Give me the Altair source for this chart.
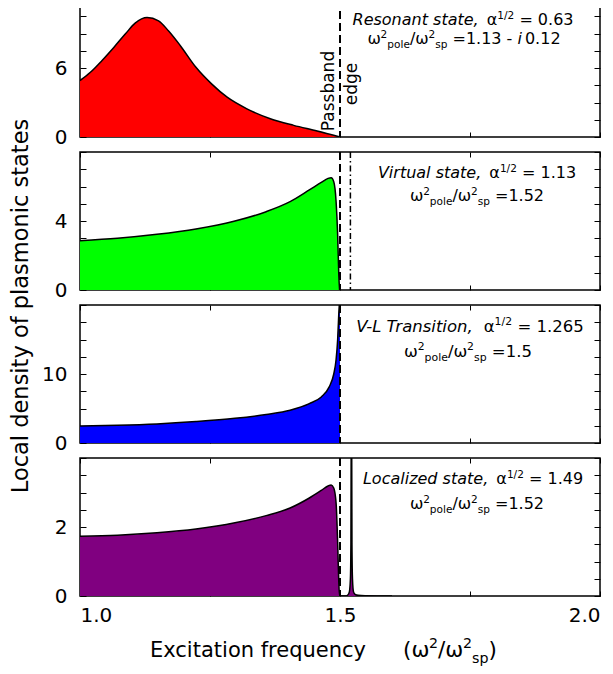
import altair as alt
import pandas as pd

FONT = "DejaVu Sans"

# ---------------- data ----------------
res_x = [1.000, 1.020, 1.042, 1.065, 1.087, 1.106, 1.129, 1.151, 1.170, 1.193, 1.223,
         1.253, 1.283, 1.321, 1.366, 1.411, 1.456, 1.500]
res_y = [4.91, 5.63, 6.64, 7.79, 8.95, 9.90, 10.39, 10.10, 9.24, 7.94, 6.06,
         4.62, 3.46, 2.45, 1.59, 1.01, 0.52, 0.0]

virt_x = [1.000, 1.072, 1.148, 1.223, 1.298, 1.358, 1.404, 1.441, 1.464, 1.477, 1.483,
          1.488, 1.4925, 1.4955, 1.4977, 1.4992]
virt_y = [2.86, 3.00, 3.23, 3.54, 4.00, 4.54, 5.12, 5.80, 6.24, 6.47, 6.51,
          6.28, 5.12, 3.19, 0.87, 0.0]

trans_x = [1.000, 1.072, 1.148, 1.223, 1.298, 1.358, 1.404, 1.441, 1.464, 1.479, 1.488,
           1.4925, 1.4955, 1.4977, 1.4992, 1.4999, 1.5]
trans_y = [2.48, 2.57, 2.76, 3.10, 3.57, 4.14, 4.76, 5.71, 6.67, 8.10, 10.0,
           12.1, 15.0, 18.8, 21.2, 30.0, 0.0]

loc_x = [1.000, 1.072, 1.148, 1.223, 1.298, 1.358, 1.404, 1.441, 1.464, 1.477, 1.483,
         1.488, 1.4925, 1.4955, 1.4977, 1.4992, 1.510, 1.515, 1.518, 1.520, 1.521,
         1.5215, 1.522, 1.5225, 1.523, 1.524, 1.526, 1.529, 1.535, 1.550, 1.600]
loc_y = [1.73, 1.76, 1.83, 1.94, 2.12, 2.33, 2.55, 2.84, 3.06, 3.19, 3.22,
         3.13, 2.69, 1.54, 0.38, 0.0, 0.0, 0.03, 0.12, 0.5, 1.5,
         4.5, 9.0, 4.5, 1.5, 0.5, 0.12, 0.05, 0.02, 0.01, 0.0]

fill_colors = ["#ff0000", "#00ff00", "#0000ff", "#800080"]
y_max = [12, 8, 20, 4]
y_ticks = [[0, 1.5, 3, 4.5, 6, 7.5, 9, 10.5, 12],
           [0, 1, 2, 3, 4, 5, 6, 7, 8],
           [0, 2.5, 5, 7.5, 10, 12.5, 15, 17.5, 20],
           [0, 0.5, 1, 1.5, 2, 2.5, 3, 3.5, 4]]
y_labeled = [[0, 6], [0, 4], [0, 10], [0, 2]]
x_ticks = [1.0, 1.25, 1.5, 1.75, 2.0]
x_labeled = [1.0, 1.5, 2.0]
passband_edge = [1.5]
virtual_pole = [1.52]

state_names = ["Resonant state,", "Virtual state,", "V-L Transition,", "Localized state,"]
alpha_vals = ["0.63", "1.13", "1.265", "1.49"]
pole_vals = ["1.13 - ", "1.52", "1.5", "1.52"]

# ---------------- layout helpers ----------------
W, H = 520, 138

DV = {' ': 318, '(': 390, ')': 390, ',': 318, '-': 361, '.': 318, '/': 337, '=': 838,
      'L': 557, 'R': 695, 'V': 684, 'T': 611, 'E': 632, 'P': 603,
      'a': 613, 'b': 635, 'c': 550, 'd': 635, 'e': 615, 'f': 352, 'g': 635, 'h': 634,
      'i': 278, 'j': 278, 'k': 579, 'l': 278, 'm': 974, 'n': 634, 'o': 612, 'p': 635,
      'q': 635, 'r': 411, 's': 521, 't': 392, 'u': 634, 'v': 592, 'w': 818, 'x': 592,
      'y': 592, 'z': 525, 'α': 659, 'ω': 823}
for d in "0123456789":
    DV[d] = 636


def text_w(s, size):
    return sum(DV.get(c, 600) for c in s) * size / 1000.0


def txt(s, x, y, size, italic=False, dy=0, align="left", angle=0, baseline="alphabetic"):
    props = dict(text=s, font=FONT, fontSize=size, align=align, baseline=baseline,
                 color="black", dy=dy)
    if italic:
        props["fontStyle"] = "italic"
    if angle:
        props["angle"] = angle
    return alt.Chart(pd.DataFrame({"k": [0]})).mark_text(**props).encode(
        x=alt.value(x), y=alt.value(y))


def rich(segments, x, y, size, anchor="center"):
    small = size * 0.66
    sizes = [size if k == "n" else small for _, k, _ in segments]
    widths = [text_w(s, fs) + (3 if ital else 0)
              for (s, _, ital), fs in zip(segments, sizes)]
    cur = x - sum(widths) / 2 if anchor == "center" else x
    out = []
    for (s, kind, ital), fs, w in zip(segments, sizes, widths):
        lead = len(s) - len(s.lstrip(" "))
        dy = {"n": 0, "sup": -0.4 * size, "sub": 0.27 * size}[kind]
        out.append(txt(s.strip(), cur + text_w(" " * lead, fs), y, fs, ital, dy))
        cur += w
    return out


def annotation(i, cx1, b1, cx2, b2, size=16):
    line1 = [(state_names[i] + " ", "n", True), ("α", "n", False), ("1/2", "sup", False),
             (" = " + alpha_vals[i], "n", False)]
    line2 = [("ω", "n", False), ("2", "sup", False), ("pole", "sub", False),
             ("/ω", "n", False), ("2", "sup", False), ("sp", "sub", False),
             (" =" + pole_vals[i], "n", False)]
    if i == 0:
        line2 += [("i", "n", True), ("0.12", "n", False)]
    return rich(line1, cx1, b1, size) + rich(line2, cx2, b2, size)


def make_panel(i, xs_data, ys_data, line_cut, extra, texts, last):
    xs = alt.Scale(domain=[1, 2], nice=False, zero=False)
    ys = alt.Scale(domain=[0, y_max[i]], nice=False, zero=True)
    cond = " || ".join(f"datum.value == {v}" for v in y_labeled[i])
    ax_left = alt.Axis(values=y_ticks[i], labelExpr=f"({cond}) ? '' + datum.value : ''",
                       tickSize=6, offset=-6, domain=False, grid=False,
                       title=None, labelPadding=13)
    if last:
        xcond = " || ".join(f"datum.value == {v}" for v in x_labeled)
        ax_bottom = alt.Axis(values=x_ticks,
                             labelExpr=f"({xcond}) ? format(datum.value, '.1f') : ''",
                             tickSize=5, offset=-5, domain=False, grid=False,
                             title=None, labelPadding=9)
    else:
        ax_bottom = alt.Axis(values=x_ticks, labels=False, tickSize=5, offset=-5,
                             domain=False, grid=False, title=None)
    ax_top = alt.Axis(orient="top", values=x_ticks, labels=False, tickSize=5, offset=-5,
                      domain=False, grid=False, title=None)
    ax_right = alt.Axis(orient="right", values=y_ticks[i], labels=False, tickSize=6,
                        offset=-6, domain=False, grid=False, title=None)

    df = pd.DataFrame({"x": xs_data, "y": ys_data})
    dfl = df.iloc[:line_cut] if line_cut else df
    area = alt.Chart(df).mark_area(color=fill_colors[i], interpolate="monotone",
                                   clip=True).encode(
        x=alt.X("x:Q", scale=xs, axis=ax_bottom),
        y=alt.Y("y:Q", scale=ys, axis=ax_left))
    line = alt.Chart(dfl).mark_line(color="black", strokeWidth=1.5, interpolate="monotone",
                                    clip=True).encode(
        x=alt.X("x:Q", scale=xs, axis=ax_top),
        y=alt.Y("y:Q", scale=ys, axis=ax_right))
    edge = alt.Chart(pd.DataFrame({"x": passband_edge})).mark_rule(
        color="black", strokeWidth=2, strokeDash=[8, 4]).encode(
        x=alt.X("x:Q", scale=xs, axis=None))
    layers = [area, line, edge]
    for e in extra:
        layers.append(e(xs))
    layers += texts
    return alt.layer(*layers).resolve_axis(x="independent", y="independent").properties(
        width=W, height=H)


def pole_rule(xs):
    return alt.Chart(pd.DataFrame({"x": virtual_pole})).mark_rule(
        color="black", strokeWidth=1.5, strokeDash=[6, 3, 1.5, 3]).encode(
        x=alt.X("x:Q", scale=xs, axis=None))


# texts
p1_texts = annotation(0, 383, 26, 384, 45) + [
    txt("Passband", 249, 92, 17, align="center", angle=270, baseline="middle"),
    txt("edge", 272, 85, 17, align="center", angle=270, baseline="middle"),
]
p2_texts = annotation(1, 397, 26, 397, 49) + [
    txt("Local density of plasmonic states", -59, 154, 22.5, align="center", angle=270,
        baseline="middle"),
]
p3_texts = annotation(2, 390, 27, 388, 52, size=16.5)
p4_texts = annotation(3, 393, 26, 397, 51) + [txt("Excitation frequency", 70, 199, 21)] + \
    rich([("(ω", "n", False), ("2", "sup", False), ("/ω", "n", False), ("2", "sup", False),
          ("sp", "sub", False), (")", "n", False)], 323, 199, 21.5, anchor="left")

panels = [
    make_panel(0, res_x, res_y, None, [], p1_texts, False),
    make_panel(1, virt_x, virt_y, None, [pole_rule], p2_texts, False),
    make_panel(2, trans_x, trans_y, len(trans_x) - 1, [], p3_texts, False),
    make_panel(3, loc_x, loc_y, None, [], p4_texts, True),
]

chart = alt.vconcat(*panels, spacing=15, bounds="flush").resolve_scale(
    x="independent", y="independent").properties(
    padding={"top": -11, "left": 1, "right": 0, "bottom": 0},
    background="white",
).configure_view(stroke="black", strokeWidth=1.5).configure_axis(
    labelFont=FONT, labelFontSize=20, labelColor="black", tickColor="black", tickWidth=1)

chart.save("out.html", embed_options={"renderer": "svg", "actions": False})
